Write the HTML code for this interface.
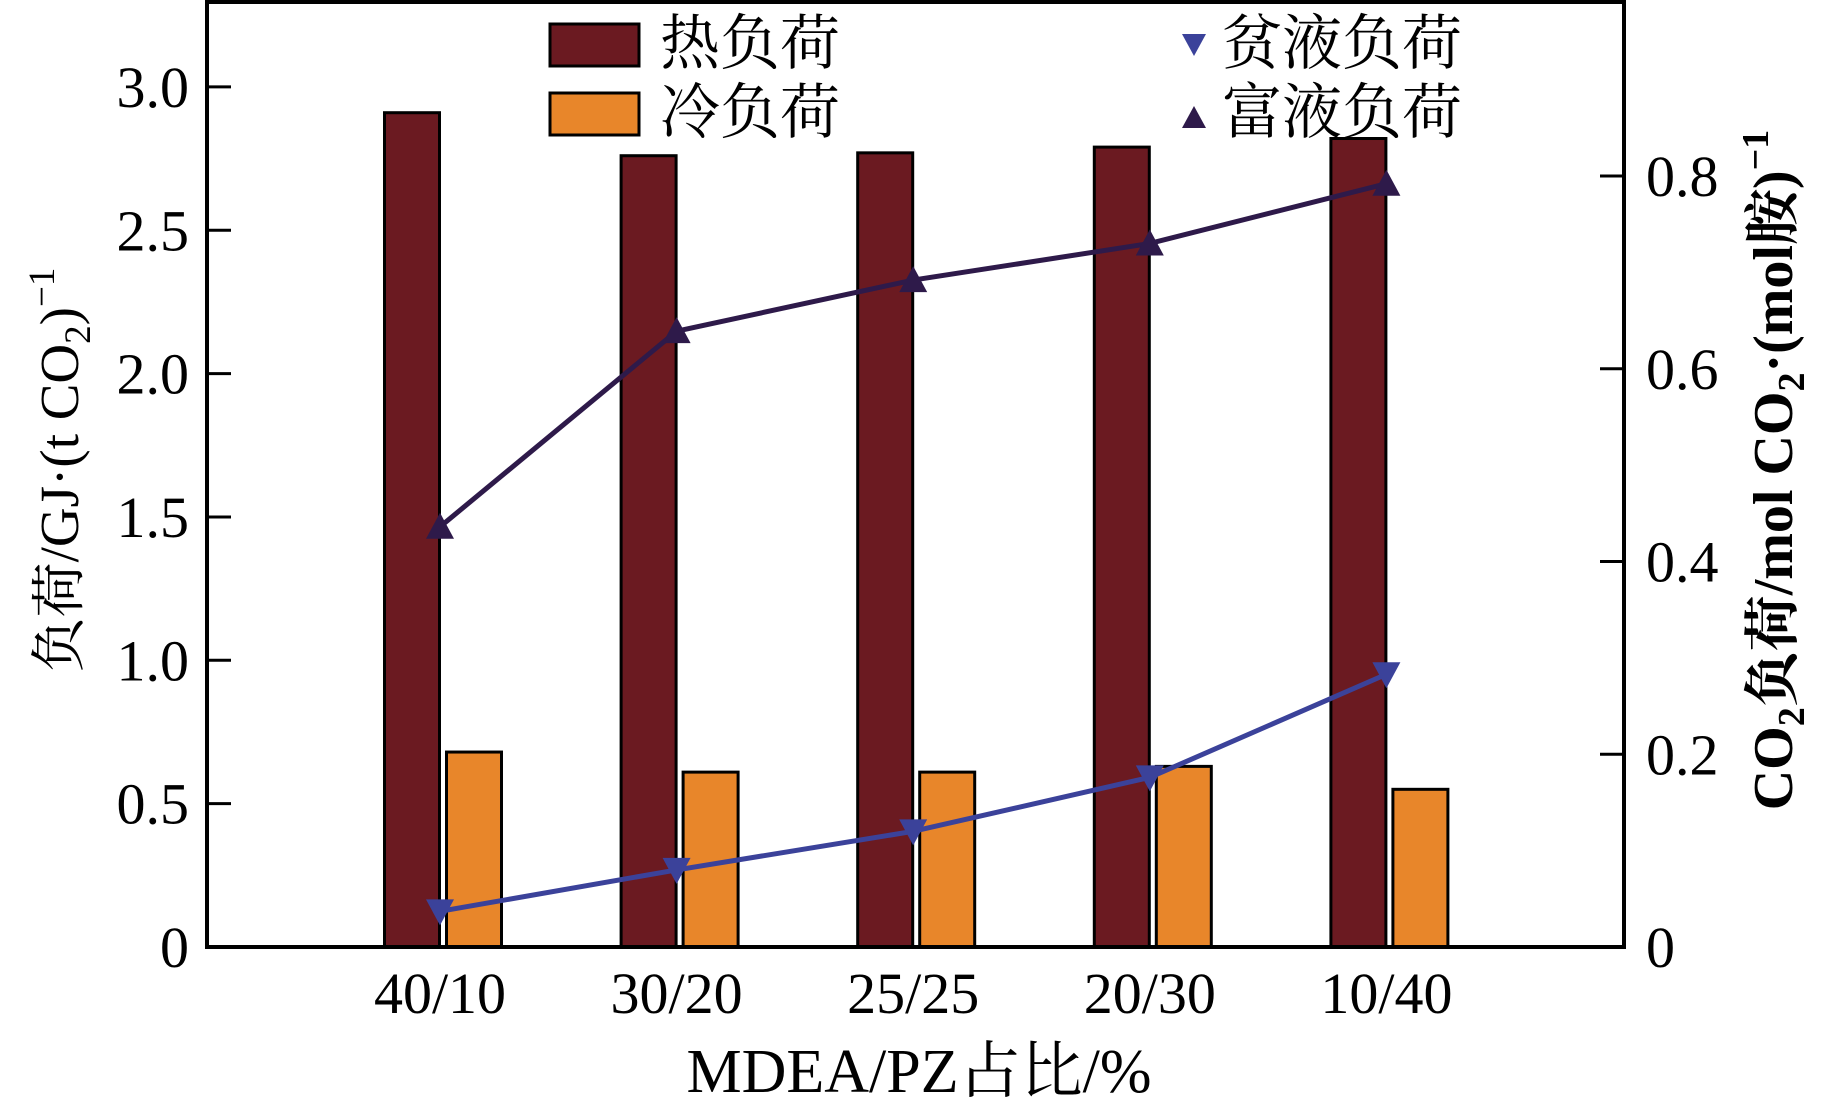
<!DOCTYPE html>
<html><head><meta charset="utf-8"><style>
html,body{margin:0;padding:0;background:#fff;}
svg text{font-family:"Liberation Serif","Noto Serif CJK SC","Noto Sans CJK SC",serif;fill:#000;}
</style></head><body>
<svg id="chart" width="1827" height="1108" viewBox="0 0 1827 1108" xmlns="http://www.w3.org/2000/svg">
<g id="bars"></g>
<g id="lines"></g>
<g id="axes"></g>
<text transform="translate(78,470) rotate(-90)" text-anchor="middle" font-size="55">负荷/GJ·(t CO<tspan font-size="37" dy="12">2</tspan><tspan dy="-12">)</tspan><tspan font-size="37" dy="-24">−1</tspan></text>
<text transform="translate(1792,470) rotate(-90)" text-anchor="middle" font-size="56" font-weight="bold">CO<tspan font-size="38" dy="12">2</tspan><tspan dy="-12">负荷/mol CO</tspan><tspan font-size="38" dy="12">2</tspan><tspan dy="-12">·(mol胺)</tspan><tspan font-size="38" dy="-24">−1</tspan></text>
<text x="919" y="1092" text-anchor="middle" font-size="62">MDEA/PZ占比/%</text>
<g>
<rect x="550" y="24" width="89" height="42" fill="#6b1a21" stroke="#000" stroke-width="3"/>
<text x="660" y="64" font-size="60">热负荷</text>
<rect x="550" y="93" width="89" height="42" fill="#e8862a" stroke="#000" stroke-width="3"/>
<text x="660" y="133" font-size="60">冷负荷</text>
<path d="M1182,34 L1206,34 L1194,56 Z" fill="#3b429a"/>
<text x="1222" y="64" font-size="60">贫液负荷</text>
<path d="M1182,128 L1206,128 L1194,106 Z" fill="#2e1a4a"/>
<text x="1222" y="133" font-size="60">富液负荷</text>
</g>
</svg>
<script>
const categories = ["40/10","30/20","25/25","20/30","10/40"];
const heatLoad = [2.91, 2.76, 2.77, 2.79, 2.82];
const coldLoad = [0.68, 0.61, 0.61, 0.63, 0.55];
const richLoad = [0.436, 0.639, 0.692, 0.730, 0.792];
const leanLoad = [0.037, 0.080, 0.120, 0.176, 0.283];
const leftTicks = [0, 0.5, 1.0, 1.5, 2.0, 2.5, 3.0];
const leftTickLabels = ["0","0.5","1.0","1.5","2.0","2.5","3.0"];
const rightTicks = [0, 0.2, 0.4, 0.6, 0.8];
const rightTickLabels = ["0","0.2","0.4","0.6","0.8"];

const NS = "http://www.w3.org/2000/svg";
const L = 207, R = 1624, T = 2, B = 947;
function yL(v){ return B - v * 286.7; }
function yR(v){ return B - v * (B - 176) / 0.8; }
function xC(i){ return 443 + i * 236.6; }
const BW = 55, GAP = 7;
function mk(tag, attrs, parent){ const e = document.createElementNS(NS, tag); for (const k in attrs) e.setAttribute(k, attrs[k]); parent.appendChild(e); return e; }

const bars = document.getElementById('bars');
categories.forEach((c, i) => {
  const hx = xC(i) - GAP/2 - BW, cx = xC(i) + GAP/2;
  const h = mk('rect', {x:hx, y:yL(heatLoad[i]), width:BW, height:B - yL(heatLoad[i]), fill:'#6b1a21', stroke:'#000', 'stroke-width':3}, bars);
  
  
  const k = mk('rect', {x:cx, y:yL(coldLoad[i]), width:BW, height:B - yL(coldLoad[i]), fill:'#e8862a', stroke:'#000', 'stroke-width':3}, bars);
  
  
});

const lines = document.getElementById('lines');
function series(vals, color, name, up){
  const px = i => xC(i) - 3;
  const pl = mk('polyline', {points: vals.map((v,i)=>px(i)+','+yR(v)).join(' '), fill:'none', stroke:color, 'stroke-width':5}, lines);
  
  
  vals.forEach((v,i)=>{
    const x = px(i), y = yR(v);
    const d = up ? `M${x-14},${y+12} L${x+14},${y+12} L${x},${y-14} Z` : `M${x-14},${y-12} L${x+14},${y-12} L${x},${y+14} Z`;
    const p = mk('path', {d:d, fill:color}, lines);
    
    
  });
}
series(richLoad, '#2e1a4a', 'rich-load', true);
series(leanLoad, '#3b429a', 'lean-load', false);

const axes = document.getElementById('axes');
const frame = mk('rect', {x:L, y:T, width:R-L, height:B-T, fill:'none', stroke:'#000', 'stroke-width':4}, axes);


leftTicks.forEach((v,i)=>{
  const t = mk('line', {x1:L, x2:L+24, y1:yL(v), y2:yL(v), stroke:'#000', 'stroke-width':3}, axes);
  
  
  const tx = mk('text', {x:L-18, y:yL(v)+20, 'text-anchor':'end', 'font-size':58}, axes);
  tx.textContent = leftTickLabels[i];
  
  
});
rightTicks.forEach((v,i)=>{
  const t = mk('line', {x1:R-24, x2:R, y1:yR(v), y2:yR(v), stroke:'#000', 'stroke-width':3}, axes);
  
  
  const tx = mk('text', {x:R+22, y:yR(v)+20, 'text-anchor':'start', 'font-size':58}, axes);
  tx.textContent = rightTickLabels[i];
  
  
});
categories.forEach((c,i)=>{
  const tx = mk('text', {x:xC(i)-3, y:1013, 'text-anchor':'middle', 'font-size':58}, axes);
  tx.textContent = c;
  
  
});
</script>
</body></html>
